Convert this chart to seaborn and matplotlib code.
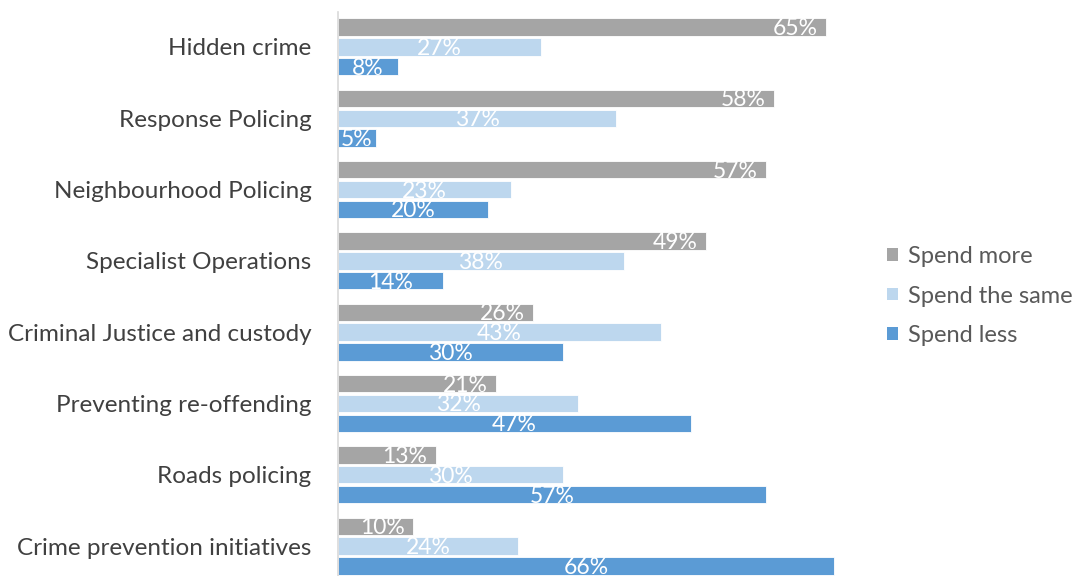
import matplotlib
matplotlib.use("Agg")
import matplotlib.pyplot as plt
import seaborn as sns
import pandas as pd
from matplotlib.patches import Patch

categories = ["Hidden crime", "Response Policing", "Neighbourhood Policing",
              "Specialist Operations", "Criminal Justice and custody",
              "Preventing re-offending", "Roads policing", "Crime prevention initiatives"]
series = ["Spend more", "Spend the same", "Spend less"]
spend_more = [65, 58, 57, 49, 26, 21, 13, 10]
spend_same = [27, 37, 23, 38, 43, 32, 30, 24]
spend_less = [8, 5, 20, 14, 30, 47, 57, 66]
colors = ["#A5A5A5", "#BDD7EE", "#5B9BD5"]

rows = []
for s, vals in zip(series, [spend_more, spend_same, spend_less]):
    for c, v in zip(categories, vals):
        rows.append({"category": c, "series": s, "value": v / 100})
df = pd.DataFrame(rows)

sns.set_style("white")
plt.rcParams["font.family"] = ["Lato", "DejaVu Sans"]

fig = plt.figure(figsize=(10.83, 5.76), dpi=100)
ax = fig.add_axes([338 / 1083, 0, (864 - 338) / 1083, (576 - 12) / 576])

sns.barplot(data=df, y="category", x="value", hue="series", order=categories,
            hue_order=series, palette=colors, saturation=1, orient="h", width=0.834,
            gap=0.12, edgecolor="white", linewidth=0.6, errorbar=None, ax=ax,
            legend=False)

ax.set_xlim(0, 0.70)
ax.set_ylim(7.42, -0.49)
ax.set_xlabel("")
ax.set_ylabel("")
ax.set_xticks([])
ax.tick_params(axis="y", length=0, pad=19, labelsize=17.5, labelcolor="#404040")
for side in ["top", "right", "bottom"]:
    ax.spines[side].set_visible(False)
ax.spines["left"].set_color("#D9D9D9")
ax.spines["left"].set_linewidth(1.2)

for i, cont in enumerate(ax.containers):
    for p in cont.patches:
        w = p.get_width()
        yb = p.get_y() + p.get_height()
        txt = f"{round(w * 100)}%"
        if i == 0:
            ax.annotate(txt, (w, yb), xytext=(-6, 0.5), textcoords="offset points",
                        ha="right", va="baseline", color="white", fontsize=16.5)
        else:
            ax.annotate(txt, (w / 2, yb), xytext=(0, 0.5), textcoords="offset points",
                        ha="center", va="baseline", color="white", fontsize=16.5)

handles = [Patch(facecolor=c, edgecolor="none") for c in colors]
fig.legend(handles, series, loc="center left", bbox_to_anchor=(887 / 1083, 1 - 296 / 576),
           frameon=False, fontsize=17, labelcolor="#595959", handlelength=0.45,
           handleheight=0.45, handletextpad=0.45, labelspacing=0.78, borderpad=0,
           borderaxespad=0)

fig.savefig("out.png", dpi=100)
